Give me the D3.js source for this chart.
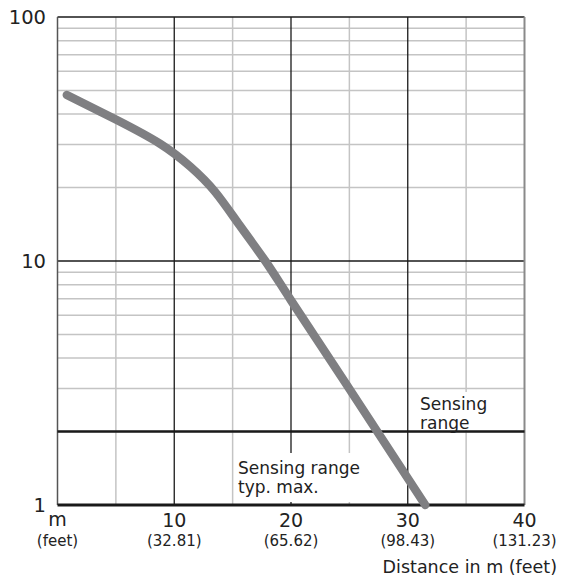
<!DOCTYPE html>
<html><head><meta charset="utf-8">
<script src="https://cdn.jsdelivr.net/npm/d3@7"></script>
<style>body{margin:0;background:#fff}svg{display:block}text{font-family:"DejaVu Sans",sans-serif;fill:#222}</style>
</head><body>
<script>
const distM = [0.8, 5, 8.8, 11.4, 13.5, 15.6, 17.8, 20, 24.6, 31.5];
const value = [47.9, 38, 30.2, 24.3, 19.2, 14, 10, 6.9, 3.2, 1];
const xTicks = [10, 20, 30, 40];
const xFeet = ["(32.81)", "(65.62)", "(98.43)", "(131.23)"];
const yTicks = [1, 10, 100];
const sensingRange = 2;

const W = 562, H = 577;
const svg = d3.select("body").append("svg").attr("width", W).attr("height", H);
const x = d3.scaleLinear().domain([0, 40]).range([57.5, 524.5]);
const y = d3.scaleLog().domain([1, 100]).range([505, 17]);

const g = svg.append("g");
[5, 15, 25, 35].forEach(v => g.append("line").attr("x1", x(v)).attr("x2", x(v)).attr("y1", y(100)).attr("y2", y(1)).attr("stroke", "#c4c4c4").attr("stroke-width", 1.5));
const minors = [];
[1, 10].forEach(d => { for (let k = 2; k <= 9; k++) minors.push(d * k); });
minors.forEach(v => g.append("line").attr("x1", x(0)).attr("x2", x(40)).attr("y1", y(v)).attr("y2", y(v)).attr("stroke", "#c4c4c4").attr("stroke-width", 1.5));
[10, 20, 30].forEach(v => g.append("line").attr("x1", x(v)).attr("x2", x(v)).attr("y1", y(100)).attr("y2", y(1)).attr("stroke", "#1a1a1a").attr("stroke-width", 1.3));
[10, 100].forEach(v => g.append("line").attr("x1", x(0)).attr("x2", x(40)).attr("y1", y(v)).attr("y2", y(v)).attr("stroke", "#1a1a1a").attr("stroke-width", 1.3));
g.append("line").attr("x1", x(0)).attr("x2", x(0)).attr("y1", y(100)).attr("y2", y(1)).attr("stroke", "#555").attr("stroke-width", 1.5);
g.append("line").attr("x1", x(40)).attr("x2", x(40)).attr("y1", y(100)).attr("y2", y(1)).attr("stroke", "#8a8a8a").attr("stroke-width", 2);
g.append("line").attr("x1", x(0)).attr("x2", x(40)).attr("y1", y(sensingRange)).attr("y2", y(sensingRange)).attr("stroke", "#1a1a1a").attr("stroke-width", 2.5);

// label backgrounds
svg.append("rect").attr("x", 236).attr("y", 453).attr("width", 132).attr("height", 49).attr("fill", "#fff");
svg.append("rect").attr("x", 416).attr("y", 392).attr("width", 80).attr("height", 38).attr("fill", "#fff");

svg.append("line").attr("x1", x(0)).attr("x2", x(40)).attr("y1", y(1)).attr("y2", y(1)).attr("stroke", "#1a1a1a").attr("stroke-width", 3);

const line = d3.line().x((d, i) => x(distM[i])).y((d, i) => y(value[i])).curve(d3.curveNatural);
svg.append("path").datum(value).attr("d", line).attr("fill", "none").attr("stroke", "#7f7f82").attr("stroke-width", 8.5).attr("stroke-linecap", "round");

yTicks.forEach(v => svg.append("text").attr("x", 46).attr("y", y(v)).attr("dy", "0.36em").attr("text-anchor", "end").attr("font-size", 19.5).text(v));
svg.append("text").attr("x", x(0)).attr("y", 526).attr("text-anchor", "middle").attr("font-size", 19).text("m");
svg.append("text").attr("x", x(0)).attr("y", 546).attr("text-anchor", "middle").attr("font-size", 15).text("(feet)");
xTicks.forEach((v, i) => {
  svg.append("text").attr("x", x(v)).attr("y", 527).attr("text-anchor", "middle").attr("font-size", 19).text(v);
  svg.append("text").attr("x", x(v)).attr("y", 546).attr("text-anchor", "middle").attr("font-size", 15).text(xFeet[i]);
});
svg.append("text").attr("x", 557).attr("y", 573).attr("text-anchor", "end").attr("font-size", 17.5).text("Distance in m (feet)");
svg.append("text").attr("x", 420).attr("y", 410).attr("font-size", 17).text("Sensing");
svg.append("text").attr("x", 420).attr("y", 429).attr("font-size", 17).text("range");
svg.append("text").attr("x", 238).attr("y", 474).attr("font-size", 17).text("Sensing range");
svg.append("text").attr("x", 238).attr("y", 493).attr("font-size", 17).text("typ. max.");
</script>
</body></html>
